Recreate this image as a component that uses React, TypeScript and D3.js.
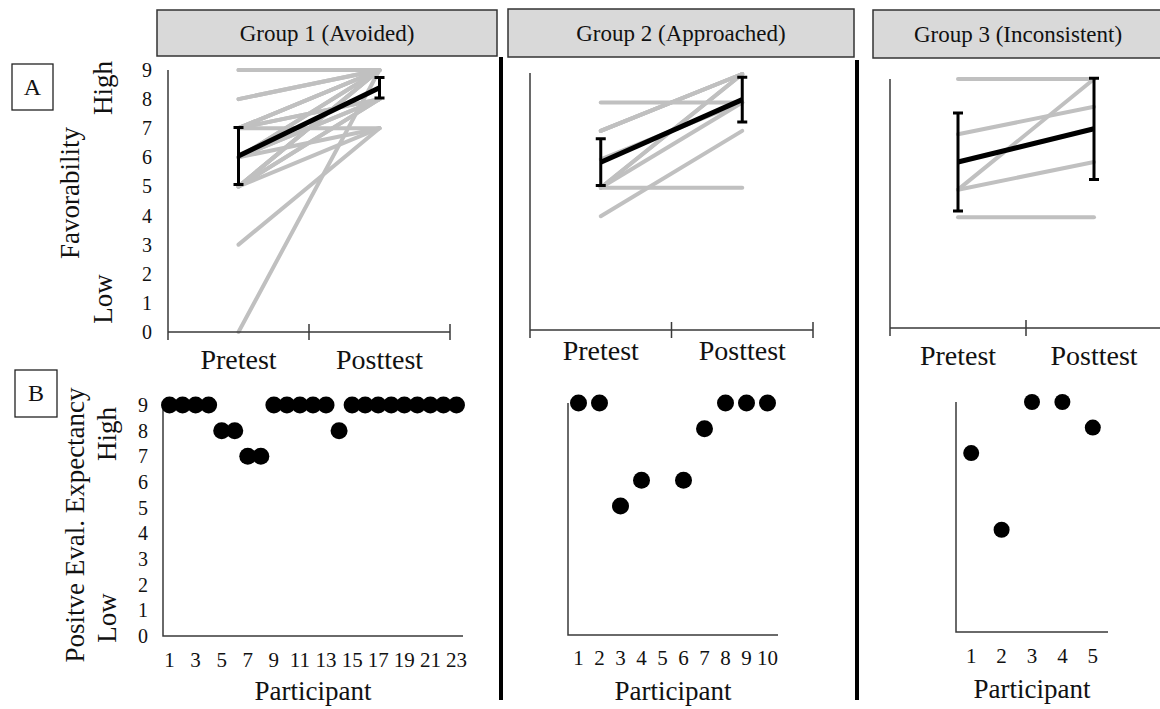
import React from "react";
import * as d3 from "d3";

// titles / categories
const groupTitles = ["Group 1 (Avoided)", "Group 2 (Approached)", "Group 3 (Inconsistent)"];
const phases = ["Pretest", "Posttest"];
const favTicks = [0, 1, 2, 3, 4, 5, 6, 7, 8, 9];

// A: favorability per participant (pretest -> posttest)
const g1Pre = [9, 8, 8, 7, 7, 7, 7, 7, 6, 6, 6, 6, 5, 5, 5, 5, 5, 5, 3, 0, 7, 6, 9];
const g1Post = [9, 9, 9, 9, 8, 9, 7, 8, 9, 8, 7, 9, 9, 8, 8, 7, 9, 9, 7, 9, 9, 8, 9];
const g2Pre = [8, 7, 7, 7, 6, 5, 5, 5, 5, 4];
const g2Post = [8, 9, 9, 9, 8, 9, 9, 8, 5, 7];
const g3Pre = [9, 7, 5, 5, 4];
const g3Post = [9, 8, 9, 6, 4];

// error bar half widths (pretest, posttest)
const g1Err = [0.98, 0.35];
const g2Err = [0.82, 0.79];
const g3Err = [1.77, 1.83];

// B: positive evaluation expectancy per participant
const g1Expect = [9, 9, 9, 9, 8, 8, 7, 7, 9, 9, 9, 9, 9, 8, 9, 9, 9, 9, 9, 9, 9, 9, 9];
const g2Expect = [9, 9, 5, 6, null, 6, 8, 9, 9, 9];
const g3Expect = [7, 4, 9, 9, 8];

const FONT = "'Liberation Serif', 'DejaVu Serif', serif";
const AXIS = "#3a3a3a";
const GRAY = "#c0c0c0";

// layout per column
const cols = [
  { pre: g1Pre, post: g1Post, err: g1Err, expect: g1Expect, oddOnly: true,
    box: [157, 10, 497, 56], a: { x0: 168, x1: 450, y0: 332, y9: 70, top: 70, lab: 369 },
    b: { x0: 163, x1: 463, y0: 636, y9: 405, r: 8.5, tickY: 667, labY: 700 } },
  { pre: g2Pre, post: g2Post, err: g2Err, expect: g2Expect, oddOnly: false,
    box: [508, 9, 854, 57], a: { x0: 530, x1: 813, y0: 330, y9: 74, top: 73, lab: 360 },
    b: { x0: 568, x1: 778, y0: 635, y9: 403, r: 8.5, tickY: 665, labY: 700 } },
  { pre: g3Pre, post: g3Post, err: g3Err, expect: g3Expect, oddOnly: false,
    box: [873, 10, 1163, 58], a: { x0: 890, x1: 1162, y0: 328, y9: 79, top: 79, lab: 365 },
    b: { x0: 956, x1: 1108, y0: 632, y9: 402, r: 8, tickY: 663, labY: 698 } },
];

const PanelA = ({ c, showY }) => {
  const { x0, x1, y0, y9, top, lab } = c.a;
  const x = d3.scalePoint().domain(phases).range([x0, x1]).padding(0.5);
  const y = d3.scaleLinear().domain([0, 9]).range([y0, y9]);
  const line = d3.line().x((d) => x(d[0])).y((d) => y(d[1]));
  const means = [d3.mean(c.pre), d3.mean(c.post)];
  const mid = (x0 + x1) / 2;
  return (
    <g>
      {c.pre.map((v, i) => (
        <path key={i} d={line([[phases[0], v], [phases[1], c.post[i]]])}
          stroke={GRAY} strokeWidth={4} fill="none" strokeLinecap="round" />
      ))}
      {/* axes */}
      <path d={`M${x0},${top} V${y0 + 8} M${x0},${y0} H${x1} M${mid},${y0 - 8} V${y0 + 8} M${x1},${y0 - 8} V${y0 + 8}`}
        stroke={AXIS} strokeWidth={1.5} fill="none" />
      {/* mean + error bars */}
      <path d={line(phases.map((p, i) => [p, means[i]]))} stroke="#000" strokeWidth={5} fill="none" />
      {phases.map((p, i) => (
        <path key={p}
          d={`M${x(p)},${y(means[i] - c.err[i])} V${y(means[i] + c.err[i])} M${x(p) - 5},${y(means[i] - c.err[i])} h10 M${x(p) - 5},${y(means[i] + c.err[i])} h10`}
          stroke="#000" strokeWidth={3} fill="none" />
      ))}
      {phases.map((p) => (
        <text key={p} x={x(p)} y={lab} textAnchor="middle" fontSize={28}>{p}</text>
      ))}
      {showY && favTicks.map((t) => (
        <text key={t} x={x0 - 16} y={y(t)} dy="0.35em" textAnchor="end" fontSize={20}>{t}</text>
      ))}
    </g>
  );
};

const PanelB = ({ c, showY }) => {
  const { x0, x1, y0, y9, r, tickY, labY } = c.b;
  const ids = c.expect.map((_, i) => i + 1);
  const x = d3.scalePoint().domain(ids).range([x0, x1]).padding(0.5);
  const y = d3.scaleLinear().domain([0, 9]).range([y0, y9]);
  return (
    <g>
      <path d={`M${x0},${y9} V${y0} H${x1}`} stroke={AXIS} strokeWidth={1.5} fill="none" />
      {c.expect.map((v, i) => v == null ? null : (
        <circle key={i} cx={x(ids[i])} cy={y(v)} r={r} fill="#000" />
      ))}
      {ids.filter((d) => !c.oddOnly || d % 2 === 1).map((d) => (
        <text key={d} x={x(d)} y={tickY} textAnchor="middle" fontSize={21}>{d}</text>
      ))}
      <text x={(x0 + x1) / 2} y={labY} textAnchor="middle" fontSize={27}>Participant</text>
      {showY && favTicks.map((t) => (
        <text key={t} x={x0 - 15} y={y(t)} dy="0.35em" textAnchor="end" fontSize={20}>{t}</text>
      ))}
    </g>
  );
};

const Rot = ({ x, y, children }) => (
  <text transform={`translate(${x},${y}) rotate(-90)`} textAnchor="middle" dy="0.35em" fontSize={27}>{children}</text>
);

export default function App() {
  return (
    <svg width={1160} height={709} style={{ position: "absolute", left: 0, top: 0, background: "#fff" }}
      fontFamily={FONT} fill="#111">
      {cols.map((c, i) => {
        const [bx0, by0, bx1, by1] = c.box;
        return (
          <g key={i}>
            <rect x={bx0} y={by0} width={bx1 - bx0} height={by1 - by0} fill="#d9d9d9" stroke="#333" strokeWidth={1.5} />
            <text x={(bx0 + bx1) / 2} y={(by0 + by1) / 2} dy="0.35em" textAnchor="middle" fontSize={23}>{groupTitles[i]}</text>
            <PanelA c={c} showY={i === 0} />
            <PanelB c={c} showY={i === 0} />
          </g>
        );
      })}
      {/* separators */}
      <line x1={501} y1={57} x2={501} y2={700} stroke="#000" strokeWidth={4} />
      <line x1={857} y1={60} x2={857} y2={700} stroke="#000" strokeWidth={4} />
      {/* panel letters */}
      <rect x={12} y={64} width={41} height={46} fill="none" stroke="#222" strokeWidth={1.3} />
      <text x={32.5} y={87} dy="0.35em" textAnchor="middle" fontSize={24}>A</text>
      <rect x={15} y={370} width={42} height={47} fill="none" stroke="#222" strokeWidth={1.3} />
      <text x={36} y={393} dy="0.35em" textAnchor="middle" fontSize={24}>B</text>
      {/* y titles */}
      <Rot x={103} y={88}>High</Rot>
      <Rot x={70} y={193}>Favorability</Rot>
      <Rot x={103} y={299}>Low</Rot>
      <Rot x={107} y={434}>High</Rot>
      <Rot x={75} y={525}>Positve Eval. Expectancy</Rot>
      <Rot x={107} y={618}>Low</Rot>
    </svg>
  );
}
